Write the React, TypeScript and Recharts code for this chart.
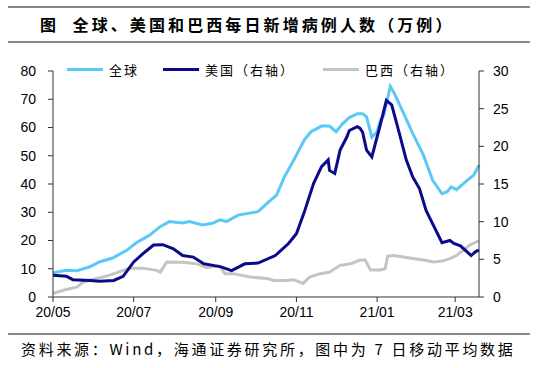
import { LineChart, Line, XAxis, YAxis } from 'recharts';

// days counted from 2020-05-01
const monthTicks = [0, 61, 123, 184, 245, 304];
const monthLabels = ['20/05', '20/07', '20/09', '20/11', '21/01', '21/03'];
const leftTicks = [0, 10, 20, 30, 40, 50, 60, 70, 80];
const rightTicks = [0, 5, 10, 15, 20, 25, 30];

const globalDays = [0, 10, 18, 28, 35, 45, 56, 63, 73, 81, 88, 98, 103, 113, 121, 126, 131, 140, 155, 163, 169, 175, 182, 190, 195, 203, 209, 214, 219, 224, 230, 234, 237, 241, 245, 247, 250, 255, 258, 265, 272, 280, 287, 294, 298, 301, 305, 313, 318, 322];
const globalVals = [8.6, 9.5, 9.3, 10.7, 12.4, 13.8, 16.6, 19.2, 21.9, 24.9, 26.7, 26.2, 26.7, 25.5, 26.2, 27.3, 26.7, 29, 30.2, 33.7, 36.1, 42.6, 48.5, 55.6, 58.5, 60.5, 60.5, 58.5, 61.4, 63.5, 64.9, 64.9, 63.8, 56.6, 58.5, 62, 64.4, 74.6, 72.1, 65, 57.8, 50.2, 41.3, 36.6, 37.3, 39, 38, 41.3, 43.1, 46.7];

const usDays = [0, 10, 15, 28, 35, 46, 53, 61, 68, 76, 83, 91, 98, 106, 114, 121, 127, 135, 145, 155, 168, 178, 184, 190, 197, 203, 208, 209, 213, 217, 222, 224, 230, 232, 234, 237, 241, 247, 252, 256, 262, 267, 272, 277, 282, 287, 294, 300, 303, 308, 313, 316, 320, 322];
const usVals = [2.9, 2.75, 2.3, 2.2, 2.1, 2.2, 2.75, 4.65, 5.75, 6.9, 6.95, 6.4, 5.5, 5.3, 4.4, 4.2, 4.0, 3.5, 4.4, 4.5, 5.5, 7.1, 8.4, 11.3, 15.1, 17.3, 18.2, 16.8, 16.4, 19.5, 21.2, 22.1, 22.6, 22.4, 21.9, 19.5, 18.6, 22.6, 26.1, 25.5, 21.6, 18.2, 15.9, 14.4, 11.5, 9.7, 7.2, 7.5, 7.1, 6.8, 6.0, 5.5, 6.1, 6.2];

const brazilDays = [0, 10, 18, 23, 33, 43, 51, 58, 68, 73, 79, 81, 86, 98, 109, 116, 124, 126, 130, 136, 149, 162, 167, 177, 182, 189, 194, 202, 209, 217, 225, 232, 236, 240, 247, 251, 253, 257, 265, 272, 280, 288, 295, 300, 305, 310, 315, 320, 322];
const brazilVals = [0.5, 1.0, 1.3, 2.0, 2.45, 2.9, 3.4, 3.8, 3.8, 3.7, 3.5, 3.3, 4.65, 4.6, 4.4, 3.9, 4.1, 4.1, 3.1, 3.1, 2.65, 2.45, 2.2, 2.2, 2.3, 1.8, 2.65, 3.1, 3.3, 4.2, 4.4, 4.9, 4.9, 3.6, 3.6, 3.75, 5.4, 5.5, 5.3, 5.1, 4.9, 4.65, 4.8, 5.1, 5.5, 6.2, 6.9, 7.3, 7.5];

const globalData = globalDays.map((d, i) => ({ d, v: globalVals[i] }));
const usData = usDays.map((d, i) => ({ d, v: usVals[i] }));
const brazilData = brazilDays.map((d, i) => ({ d, v: brazilVals[i] }));

const cjk = '"Noto Sans CJK SC", sans-serif';
const axisColor = '#333';
const tickStyle = { fontFamily: '"Liberation Sans", Arial, sans-serif', fontSize: 14, fill: '#000' };

const legendItems = [
  { name: '全球', color: '#5BC8F5', left: 67 },
  { name: '美国（右轴）', color: '#0A0A8A', left: 163 },
  { name: '巴西（右轴）', color: '#C4C4C4', left: 323 },
];

export default function App() {
  return (
    <div style={{ position: 'absolute', left: 0, top: 0, width: 538, height: 368, background: '#fff', overflow: 'hidden' }}>
      <div style={{ position: 'absolute', left: 8, top: 6, width: 522, height: 0, borderTop: '2px solid #888' }} />
      <div style={{ position: 'absolute', left: 40, top: 13, fontFamily: cjk, fontWeight: 700, fontSize: 16, letterSpacing: 3.1, lineHeight: '22px', color: '#000', whiteSpace: 'nowrap' }}>
        图&nbsp;&nbsp;全球、美国和巴西每日新增病例人数（万例）
      </div>
      <div style={{ position: 'absolute', left: 8, top: 41, width: 522, height: 0, borderTop: '2px solid #888' }} />

      {legendItems.map((it) => (
        <div key={it.name} style={{ position: 'absolute', left: it.left, top: 60, height: 18, display: 'flex', alignItems: 'center', whiteSpace: 'nowrap' }}>
          <div style={{ width: 36, height: 3, background: it.color, marginRight: 6 }} />
          <span style={{ fontFamily: cjk, fontSize: 13, letterSpacing: 2, color: '#000' }}>{it.name}</span>
        </div>
      ))}

      <div style={{ position: 'absolute', left: 0, top: 0 }}>
        <LineChart width={538} height={368} margin={{ top: 71, right: 0, bottom: 0, left: 0 }}>
          <XAxis
            xAxisId="x"
            type="number"
            dataKey="d"
            domain={[0, 322]}
            ticks={monthTicks}
            tickFormatter={(t) => monthLabels[monthTicks.indexOf(t)]}
            height={71}
            tickSize={5}
            tickMargin={5}
            stroke={axisColor}
            tick={tickStyle}
            allowDuplicatedCategory={false}
          />
          <YAxis
            yAxisId="left"
            domain={[0, 80]}
            ticks={leftTicks}
            width={53}
            tickSize={5}
            tickMargin={12}
            stroke={axisColor}
            tick={tickStyle}
            interval={0}
          />
          <YAxis
            yAxisId="right"
            orientation="right"
            domain={[0, 30]}
            ticks={rightTicks}
            width={59}
            tickSize={5}
            tickMargin={9}
            stroke={axisColor}
            tick={{ ...tickStyle, textAnchor: 'start' }}
            interval={0}
          />
          <Line xAxisId="x" yAxisId="right" data={brazilData} dataKey="v" type="linear" stroke="#C4C4C4" strokeWidth={3} dot={false} isAnimationActive={false} />
          <Line xAxisId="x" yAxisId="left" data={globalData} dataKey="v" type="linear" stroke="#5BC8F5" strokeWidth={3} dot={false} isAnimationActive={false} />
          <Line xAxisId="x" yAxisId="right" data={usData} dataKey="v" type="linear" stroke="#0A0A8A" strokeWidth={3} dot={false} isAnimationActive={false} />
        </LineChart>
      </div>

      <div style={{ position: 'absolute', left: 8, top: 333, width: 522, height: 0, borderTop: '2px solid #888' }} />
      <div style={{ position: 'absolute', left: 21, top: 339, fontFamily: cjk, fontSize: 15, letterSpacing: 2.7, lineHeight: '20px', color: '#000', whiteSpace: 'nowrap' }}>
        资料来源：Wind，海通证券研究所，图中为 7 日移动平均数据
      </div>
    </div>
  );
}
